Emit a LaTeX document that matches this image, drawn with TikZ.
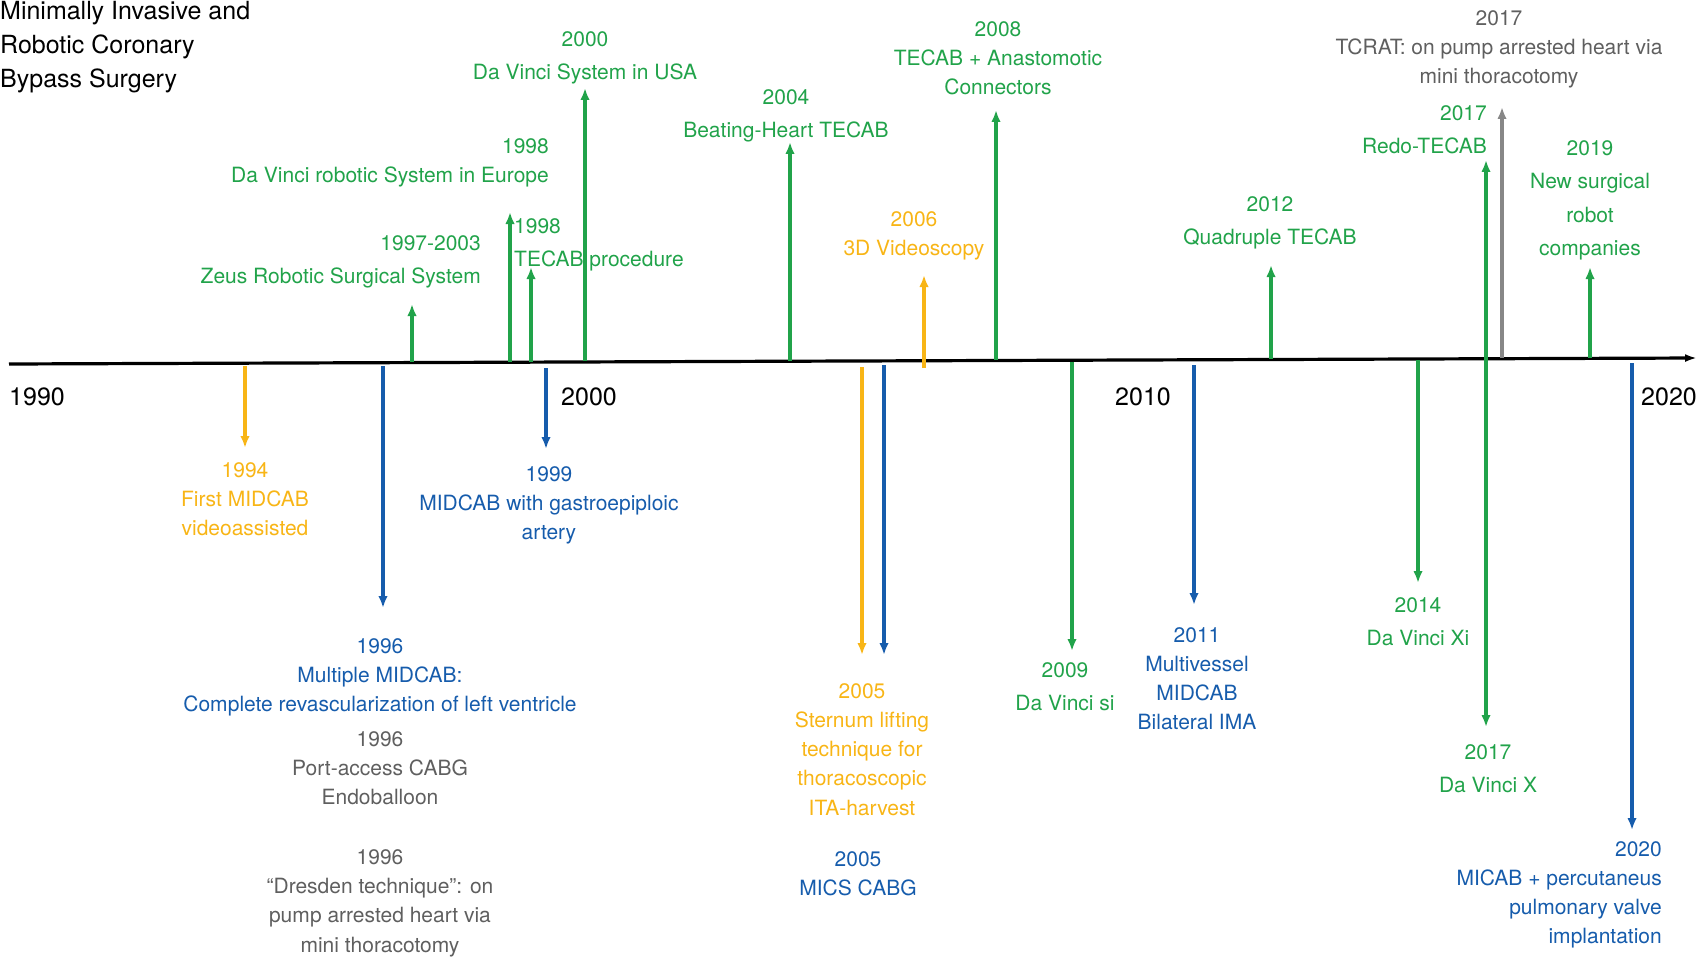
\documentclass[tikz,border=0pt]{standalone}
\usepackage{fontspec}
\setmainfont{TeX Gyre Heros}
\usetikzlibrary{arrows.meta}

\definecolor{tlgreen}{RGB}{33,163,74}
\definecolor{tlyellow}{RGB}{248,181,22}
\definecolor{tlblue}{RGB}{22,92,172}
\definecolor{tlgray}{RGB}{95,95,95}
\definecolor{tlgrayarrow}{RGB}{135,135,135}

\tikzset{
	evt/.style={inner sep=0pt, anchor=north, align=center, font=\fontsize{21}{29.3}\selectfont},
	evtw/.style={evt, font=\fontsize{21}{33.5}\selectfont},
	yearlbl/.style={inner sep=0pt, font=\fontsize{25}{30}\selectfont},
	tlarrow/.style={line width=3.4pt, -{Latex[length=12pt,width=9.5pt]}},
}

\begin{document}
\begin{tikzpicture}[
		x={(1pt,0pt)},
		y={(0pt,-1pt)},
	]
	\useasboundingbox (0,0) rectangle (1704,960);

	\node[evt, anchor=north west, align=left, font=\fontsize{25}{34}\selectfont] (title) at (0,1) {Minimally Invasive and\\Robotic Coronary\\Bypass Surgery};

	% time axis
	\coordinate (axL) at (9,364);
	\coordinate (axR) at (1697,358);
	\draw[line width=3.2pt, -{Latex[length=12pt,width=8pt]}] (axL) -- (axR);

	\node[yearlbl, anchor=west] (y1990) at (9,397) {1990};
	\node[yearlbl] (y2000) at (589,397) {2000};
	\node[yearlbl] (y2010) at (1143,397) {2010};
	\node[yearlbl, anchor=west] (y2020) at (1641,397) {2020};

	% event arrows: name/x/start/tip/colour
	\foreach \n/\x/\ya/\yb/\c in {
		zeus/412/362/304/tlgreen, eur/510/362/212/tlgreen, tec/531/362/267/tlgreen,
		usa/585/361/88/tlgreen, bh/790/361/142/tlgreen, vid/924/368/275/tlyellow,
		anc/996/360/110/tlgreen, quad/1271/359/265/tlgreen, redo/1486/358/160/tlgreen,
		tcrat/1502/358/107/tlgrayarrow, new/1590/358/267/tlgreen,
		mid/245/366/448/tlyellow, mul/383/366/608/tlblue, gep/546/368/449/tlblue,
		stl/862/367/655/tlyellow, mics/884/365/655/tlblue, si/1072/362/651/tlgreen,
		mv/1194/365/605/tlblue, xi/1418/360/583/tlgreen, dvx/1486/358/727/tlgreen,
		pv/1632/363/830/tlblue}{
		\coordinate (\n s) at (\x,\ya);
		\coordinate (\n e) at (\x,\yb);
		\draw[tlarrow, \c] (\n s) -- (\n e);
	}

	% above the axis
	\node[evtw, tlgreen, anchor=north east, align=right] (lzeus) at (481,235) {1997-2003\\Zeus Robotic Surgical System};
	\node[evt, tlgreen, anchor=north east, align=right] (leur) at (549,138) {1998\\Da Vinci robotic System in Europe};
	\node[evtw, tlgreen, anchor=north west, align=left] (ltec) at (514,218) {1998\\TECAB procedure};
	\node[evtw, tlgreen] (lusa) at (585,31) {2000\\Da Vinci System in USA};
	\node[evtw, tlgreen] (lbh) at (786,89) {2004\\Beating-Heart TECAB};
	\node[evt, tlyellow] (lvid) at (914,211) {2006\\3D Videoscopy};
	\node[evt, tlgreen] (lanc) at (998,21) {2008\\TECAB + Anastomotic\\Connectors};
	\node[evtw, tlgreen] (lquad) at (1270,196) {2012\\Quadruple TECAB};
	\node[evtw, tlgreen, anchor=north east, align=right] (lredo) at (1487,105) {2017\\Redo-TECAB};
	\node[evt, tlgray] (ltcrat) at (1499,10) {2017\\TCRAT: on pump arrested heart via\\mini thoracotomy};
	\node[evtw, tlgreen] (lnew) at (1590,140) {2019\\New surgical\\robot\\companies};

	% below the axis
	\node[evt, tlyellow] (lmid) at (245,462) {1994\\First MIDCAB\\videoassisted};
	\node[evt, tlblue] (lmul) at (380,638) {1996\\Multiple MIDCAB:\\Complete revascularization of left ventricle};
	\node[evt, tlgray] (lport) at (380,731) {1996\\Port-access CABG\\Endoballoon};
	\node[evt, tlgray] (ldres) at (380,849) {1996\\“Dresden technique”: on\\pump arrested heart via\\mini thoracotomy};
	\node[evt, tlblue] (lgep) at (549,466) {1999\\MIDCAB with gastroepiploic\\artery};
	\node[evt, tlyellow] (lstl) at (862,683) {2005\\Sternum lifting\\technique for\\thoracoscopic\\ITA-harvest};
	\node[evt, tlblue] (lmics) at (858,851) {2005\\MICS CABG};
	\node[evtw, tlgreen] (lsi) at (1065,662) {2009\\Da Vinci si};
	\node[evt, tlblue] (lmv) at (1197,627) {2011\\Multivessel\\MIDCAB\\Bilateral IMA};
	\node[evtw, tlgreen] (lxi) at (1418,597) {2014\\Da Vinci Xi};
	\node[evtw, tlgreen] (ldvx) at (1488,744) {2017\\Da Vinci X};
	\node[evt, tlblue, anchor=north east, align=right] (lpv) at (1662,841) {2020\\MICAB + percutaneus\\pulmonary valve\\implantation};
\end{tikzpicture}
\end{document}
